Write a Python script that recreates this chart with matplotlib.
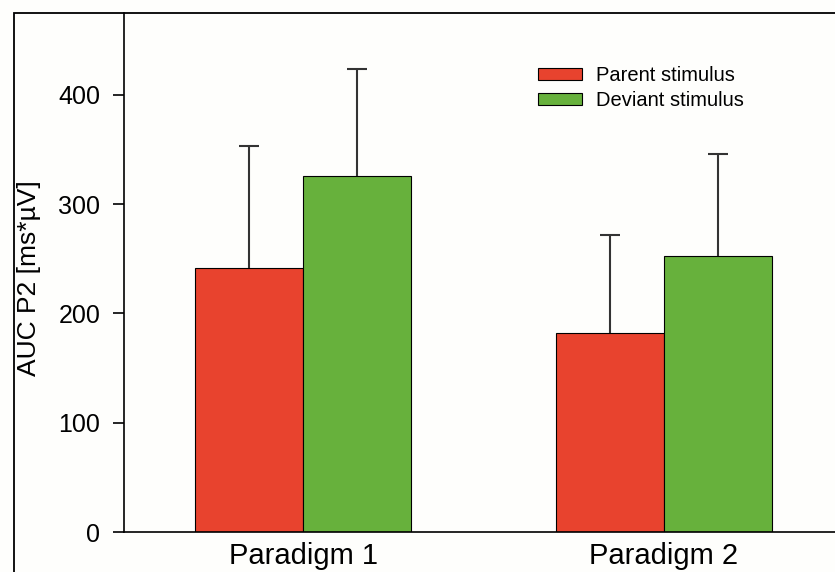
import matplotlib.pyplot as plt
import matplotlib.patches as mpatches
import numpy as np

plt.rcParams['font.family'] = ['Liberation Sans', 'DejaVu Sans']

groups = ["Paradigm 1", "Paradigm 2"]
parent = [242, 182]
parent_err = [111, 90]
deviant = [326, 253]
deviant_err = [98, 93]
yticks = [0, 100, 200, 300, 400]

red = "#E8432E"
green = "#67B13C"

W, H = 835, 572
fig = plt.figure(figsize=(W / 100, H / 100), dpi=100)
fig.patch.set_facecolor("#fefefc")

# outer frame of the original figure (cropped at right/bottom)
fig.add_artist(mpatches.Rectangle((14 / W, -0.1), 1.2, 1.1 - 13 / H,
                                  transform=fig.transFigure, fill=False,
                                  edgecolor="black", linewidth=1.3))

ax = fig.add_axes([124 / W, 1 - 532 / H, (W - 124) / W, (532 - 13) / H])
ax.set_facecolor("#fefefc")

x = np.arange(len(groups))
bw = 0.3
ax.bar(x - bw / 2, parent, bw, color=red, edgecolor="black", linewidth=0.8,
       label="Parent stimulus")
ax.bar(x + bw / 2, deviant, bw, color=green, edgecolor="black", linewidth=0.8,
       label="Deviant stimulus")
for xs, vals, errs in [(x - bw / 2, parent, parent_err),
                       (x + bw / 2, deviant, deviant_err)]:
    eb = ax.errorbar(xs, vals, yerr=[np.zeros(2), errs], fmt="none",
                     ecolor="#333333", elinewidth=1.5, capsize=7.5, capthick=1.5)
    eb[1][0].set_visible(False)  # no cap on the bar top

ax.set_ylim(0, 475)
ax.set_xlim(-0.496, 1.474)
ax.set_yticks(yticks)
ax.set_xticks(x)
ax.set_xticklabels(groups, fontsize=21)
ax.tick_params(axis="x", length=0, pad=7)
ax.tick_params(axis="y", labelsize=18, length=8, width=1.2, pad=9)
ax.set_ylabel("AUC P2 [ms*µV]", fontsize=19)
ax.yaxis.set_label_coords(-0.117, 0.49)

for s in ["top", "right"]:
    ax.spines[s].set_visible(False)
for s in ["left", "bottom"]:
    ax.spines[s].set_linewidth(1.2)

ax.legend(loc="upper left", bbox_to_anchor=(530 / W, 1 - 58 / H),
          bbox_transform=fig.transFigure, frameon=False, fontsize=14.5,
          handlelength=2.2, handleheight=0.6, handletextpad=0.7,
          labelspacing=0.3, borderaxespad=0)

fig.savefig("out.png", dpi=100, facecolor=fig.get_facecolor())
